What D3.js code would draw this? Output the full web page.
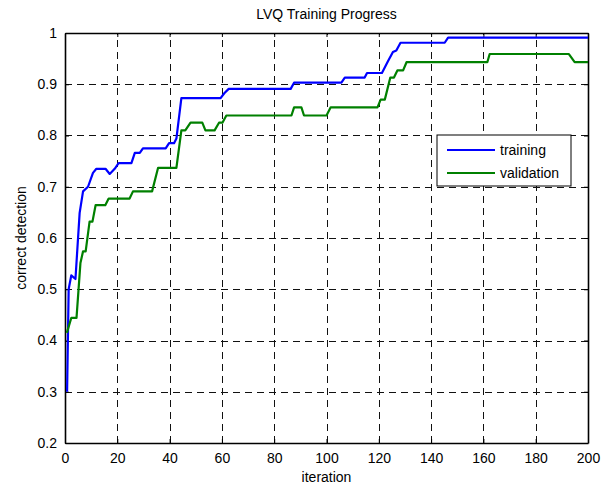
<!DOCTYPE html>
<html>
<head>
<meta charset="utf-8">
<script src="https://cdn.jsdelivr.net/npm/d3@7"></script>
<style>
  body { margin: 0; background: #fff; }
  svg text { font-family: "Liberation Sans", Arial, sans-serif; fill: #000; }
</style>
</head>
<body>
<div id="chart"></div>
<script>
// data
const trainIter = [0.8, 1.4, 2.4, 4, 5.6, 6.9, 8.8, 10.7, 12, 15.5, 17.1, 19, 20.5, 25.4, 26.7, 28.6, 29.8, 38.5, 39.8, 41.7,
    42.6, 44.5, 59.5, 61, 62.6, 86.3, 87.6, 105.7, 107, 114.6, 115.5, 121.2, 123.5, 125.4, 126.7, 128.3, 145.2, 146.5, 200];
const trainVal = [0.30, 0.50, 0.527, 0.52, 0.649, 0.691, 0.70, 0.727, 0.735, 0.735, 0.725, 0.735, 0.746, 0.746, 0.766, 0.766, 0.775, 0.775, 0.785, 0.785,
    0.794, 0.873, 0.873, 0.883, 0.891, 0.891, 0.903, 0.903, 0.913, 0.913, 0.922, 0.922, 0.945, 0.963, 0.966, 0.981, 0.981, 0.991, 0.991];

const valIter = [0.7, 2.4, 4.4, 5.9, 6.9, 7.9, 9.4, 10.5, 11.7, 15.4, 16.7, 24.7, 26, 33.3, 35.6, 42.6, 44.5, 46, 48, 52.5,
    53.7, 57.2, 58.9, 60.2, 61.7, 86.6, 87.6, 90.4, 91.4, 100, 101.6, 119.5, 120.7, 122.3, 124.4, 125.8, 127.1, 129.3, 130.6, 161.5,
    162.4, 192.7, 194.9, 200];
const valVal = [0.415, 0.444, 0.444, 0.551, 0.574, 0.574, 0.632, 0.632, 0.664, 0.664, 0.677, 0.677, 0.691, 0.691, 0.737, 0.737, 0.81, 0.81, 0.825, 0.825,
    0.81, 0.81, 0.825, 0.825, 0.839, 0.839, 0.855, 0.855, 0.839, 0.839, 0.855, 0.855, 0.870, 0.870, 0.913, 0.913, 0.927, 0.927, 0.943, 0.943,
    0.959, 0.959, 0.943, 0.943];

const xTicks = [0, 20, 40, 60, 80, 100, 120, 140, 160, 180, 200];
const yTicks = [0.2, 0.3, 0.4, 0.5, 0.6, 0.7, 0.8, 0.9, 1];
const seriesNames = ["training", "validation"];
const seriesColors = ["#0000ff", "#008000"];

// SETUP
const wsvg = 609;
const hsvg = 487;
const pLeft = 65, pRight = 588, pTop = 33, pBottom = 443;

const svg = d3.select("#chart").append("svg")
    .attr("width", wsvg)
    .attr("height", hsvg);

const xScale = d3.scaleLinear([0, 200], [pLeft, pRight]);
const yScale = d3.scaleLinear([0.2, 1], [pBottom, pTop]);

// grid
svg.append("g").selectAll("line")
    .data(xTicks.slice(1, -1))
    .join("line")
    .attr("x1", d => Math.round(xScale(d)) + 0.5).attr("x2", d => Math.round(xScale(d)) + 0.5)
    .attr("y1", pBottom).attr("y2", pTop)
    .attr("stroke", "#111").attr("stroke-width", 1)
    .attr("stroke-dasharray", "7,5");

svg.append("g").selectAll("line")
    .data(yTicks.slice(1, -1))
    .join("line")
    .attr("x1", pLeft).attr("x2", pRight)
    .attr("y1", d => Math.round(yScale(d)) + 0.5).attr("y2", d => Math.round(yScale(d)) + 0.5)
    .attr("stroke", "#111").attr("stroke-width", 1)
    .attr("stroke-dasharray", "7,5");

// axes (ticks inside, box on)
const fmt = d => d === 1 ? "1" : d3.format(".1f")(d);
svg.append("g")
    .attr("transform", `translate(0, ${pBottom})`)
    .call(d3.axisBottom(xScale).tickValues(xTicks).tickSizeInner(-4).tickSizeOuter(0).tickPadding(10));
svg.append("g")
    .attr("transform", `translate(${pLeft}, 0)`)
    .call(d3.axisLeft(yScale).tickValues(yTicks).tickFormat(fmt).tickSizeInner(-4).tickSizeOuter(0).tickPadding(8));
svg.append("g")
    .attr("transform", `translate(0, ${pTop})`)
    .call(d3.axisTop(xScale).tickValues(xTicks).tickSizeInner(-4).tickSizeOuter(0).tickFormat(""));
svg.append("g")
    .attr("transform", `translate(${pRight}, 0)`)
    .call(d3.axisRight(yScale).tickValues(yTicks).tickSizeInner(-4).tickSizeOuter(0).tickFormat(""));

svg.selectAll(".domain").attr("stroke", "#000").attr("stroke-width", 1.6);
svg.selectAll(".tick line").attr("stroke", "#000");
svg.selectAll(".tick text").attr("font-size", 14).attr("font-family", "Liberation Sans, Arial, sans-serif");

// lines
const series = [
    trainIter.map((d, i) => ({ x: d, y: trainVal[i] })),
    valIter.map((d, i) => ({ x: d, y: valVal[i] }))
];

const line = d3.line()
    .x(d => xScale(d.x))
    .y(d => yScale(d.y));

svg.selectAll(".line-path")
    .data(series)
    .join("path")
    .attr("class", "line-path")
    .attr("d", line)
    .attr("fill", "none")
    .attr("stroke", (d, i) => seriesColors[i])
    .attr("stroke-width", 2.2)
    .attr("stroke-linejoin", "round");

// texts
svg.append("text")
    .attr("x", (pLeft + pRight) / 2).attr("y", 19)
    .attr("text-anchor", "middle").attr("font-size", 14)
    .text("LVQ Training Progress");

svg.append("text")
    .attr("x", (pLeft + pRight) / 2).attr("y", 482)
    .attr("text-anchor", "middle").attr("font-size", 14)
    .text("iteration");

svg.append("text")
    .attr("transform", `translate(26, ${(pTop + pBottom) / 2}) rotate(-90)`)
    .attr("text-anchor", "middle").attr("font-size", 14)
    .text("correct detection");

// LEGEND
const legend = svg.append("g").attr("transform", "translate(437, 135)");
legend.append("rect")
    .attr("width", 134).attr("height", 51)
    .attr("fill", "#fff").attr("stroke", "#000").attr("stroke-width", 1);

seriesNames.forEach((name, i) => {
    const ly = 15 + i * 23;
    legend.append("line")
        .attr("x1", 10).attr("x2", 58)
        .attr("y1", ly).attr("y2", ly)
        .attr("stroke", seriesColors[i]).attr("stroke-width", 2.2);
    legend.append("text")
        .attr("x", 63).attr("y", ly + 5)
        .attr("font-size", 14)
        .text(name);
});
</script>
</body>
</html>
